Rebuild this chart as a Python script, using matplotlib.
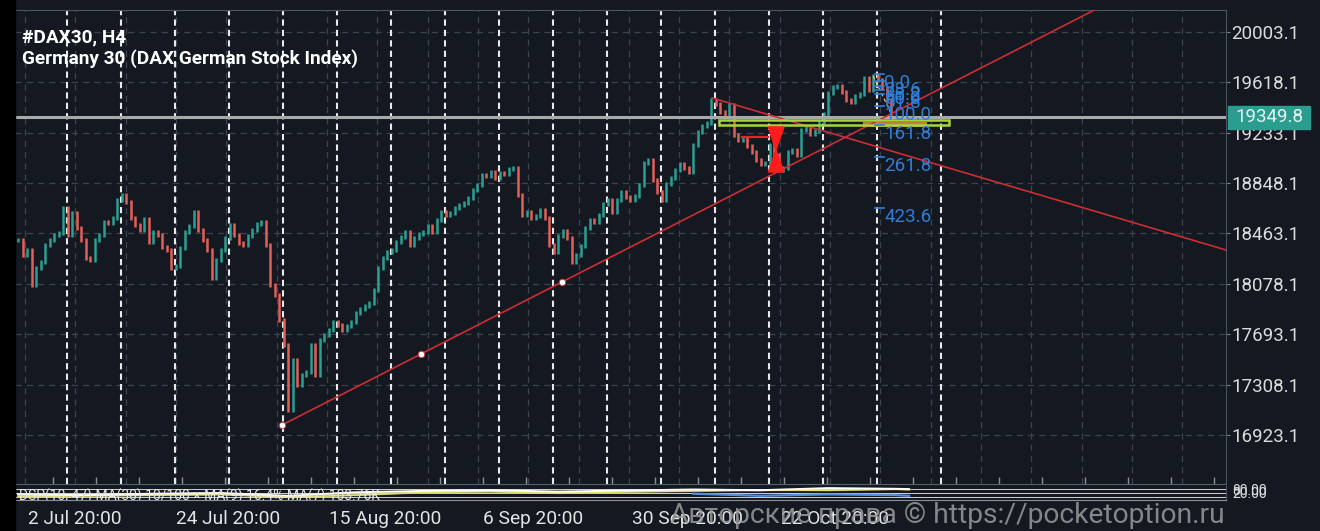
import numpy as np
import matplotlib.pyplot as plt
from matplotlib.patches import Rectangle, Polygon

plt.rcParams['font.family'] = ['Roboto', 'DejaVu Sans']

BG = '#131821'
UP = '#2b9f91'
DOWN = '#e2605a'

# H4 closes (one value per bar)
closes = [
    18413, 18299, 18337, 18069, 18199, 18245, 18375, 18413, 18452, 18467,
    18658, 18452, 18620, 18505, 18413, 18276, 18261, 18413, 18452, 18551,
    18545, 18582, 18719, 18757, 18704, 18582, 18528, 18490, 18574, 18398,
    18475, 18452, 18360, 18337, 18199, 18215, 18352, 18475, 18520, 18627,
    18490, 18413, 18337, 18123, 18261, 18337, 18429, 18528, 18452, 18391,
    18375, 18444, 18490, 18536, 18551, 18375, 18069, 17993, 17802, 17611,
    17114, 17496, 17305, 17382, 17405, 17611, 17382, 17649, 17687, 17726,
    17787, 17764, 17726, 17756, 17787, 17855, 17886, 17909, 17932, 18031,
    18199, 18276, 18322, 18337, 18398, 18436, 18475, 18375, 18429, 18459,
    18475, 18520, 18475, 18566, 18627, 18605, 18620, 18658, 18681, 18696,
    18734, 18796, 18834, 18910, 18903, 18933, 18887, 18926, 18918, 18956,
    18964, 18757, 18605, 18627, 18582, 18597, 18643, 18582, 18375, 18322,
    18444, 18482, 18429, 18245, 18299, 18368, 18505, 18566, 18551, 18605,
    18689, 18719, 18627, 18719, 18780, 18742, 18719, 18750, 18834, 19002,
    19025, 18872, 18780, 18719, 18841, 18887, 18948, 18994, 18964, 18933,
    19140, 19239, 19285, 19308, 19483, 19453, 19392, 19361, 19445, 19216,
    19178, 19193, 19132, 19086, 19025, 18994, 19002, 19140, 19063, 18948,
    18964, 19086, 19101, 19063, 19254, 19269, 19224, 19247, 19315, 19376,
    19537, 19583, 19590, 19545, 19483, 19468, 19514, 19529, 19652, 19560,
    19667, 19636, 19575, 19483, 19350,
]
last_price = 19349.8

price_ticks = [20003.1, 19618.1, 19233.1, 18848.1, 18463.1, 18078.1, 17693.1, 17308.1, 16923.1]
date_labels = ['2 Jul 20:00', '24 Jul 20:00', '15 Aug 20:00', '6 Sep 20:00', '30 Sep 20:00', '22 Oct 20:00']
date_bars = [12.5, 46.7, 81.6, 114.5, 148.7, 181.6]

# drawn objects (bar index, price)
trend_up_x = [58.7, 89.6, 120.9]
trend_up_y = [17000, 17543, 18093]
trend_dn_x = [154.2, 268.4]
trend_dn_y = [19499, 18337]
box_x = [155.8, 206.9]
box_y = [19292, 19331]
zone_x = [187.8, 202.0]
zone_y = [19277, 19315]
bow_x = [166.7, 168.4, 170.2]
bow_y = [19277, 19101, 18933]
path_x = [160.9, 166.7]
path_y = [19201, 19201]
fib_levels = [0.0, 23.6, 38.2, 50.0, 61.8, 100.0, 161.8, 261.8, 423.6]
fib_0 = 19682
fib_100 = 19440
fib_x = 190.4

# oscillator pane
osc_x = [0, 15, 30, 45, 60, 75, 90, 105, 120, 135, 150, 165, 180, 195, 198]
osc_white = [40, 35, 45, 50, 30, 55, 65, 70, 60, 68, 75, 70, 85, 80, 78]
osc_yellow = [25, 30, 35, 40, 20, 35, 55, 60, 50, 58, 65, 72, 70, 78, 75]
osc_blue = [None, None, None, None, None, None, None, None, None, None, 45, 30, 40, 35, 30]

W, H = 1320, 531
fig = plt.figure(figsize=(W / 100, H / 100), dpi=100, facecolor=BG)
fig.patches.append(Rectangle((0, 0), 15 / W, 1, transform=fig.transFigure,
                             color='black', zorder=0))

ax = fig.add_axes([15 / W, (H - 484) / H, 1211 / W, 474 / H], facecolor=BG)
x_lo, x_hi = -0.67, 268.4
ax.set_xlim(x_lo, x_hi)
ax.set_ylim(16548.5, 20171.2)

# grid
for p in price_ticks:
    ax.axhline(p, color='#3b4250', lw=0.9, ls=(0, (5, 4)), zorder=1)
for x in np.arange(1.56, x_hi, 11.18):
    ax.axvline(x, color='#3b4250', lw=0.9, ls=(0, (5, 4)), zorder=1)
for x in list(np.arange(10.9, 192, 12)) + [205.1]:
    ax.axvline(x, color='#e9e9e9', lw=1.5, ls=(0, (3, 2)), zorder=2)

# candles
c = np.array(closes, dtype=float)
prev = np.concatenate([[c[0]], c[:-1]])
idx = np.arange(len(c))
lo = np.minimum(prev, c) - 18
hi = np.maximum(prev, c) + 18
cols = [UP if a >= b else DOWN for a, b in zip(c, prev)]
ax.vlines(idx, lo, hi, colors=cols, linewidth=1.8, zorder=3)

# current price line
ax.axhline(last_price, color='#a9a9a9', lw=2.2, zorder=4)

# trendlines
s_up = (trend_up_y[-1] - trend_up_y[0]) / (trend_up_x[-1] - trend_up_x[0])
ax.plot([trend_up_x[0], x_hi], [trend_up_y[0], trend_up_y[0] + s_up * (x_hi - trend_up_x[0])],
        color='#cf2d33', lw=1.2, zorder=5)
ax.scatter(trend_up_x, trend_up_y, s=22, color='white', edgecolors='#cf2d33',
           linewidths=0.6, zorder=6)
ax.plot(trend_dn_x, trend_dn_y, color='#cf2d33', lw=1.2, zorder=5)

# levels box and zone
ax.add_patch(Rectangle((zone_x[0], zone_y[0]), zone_x[1] - zone_x[0], zone_y[1] - zone_y[0],
                       facecolor='#d98a3a', edgecolor='none', alpha=0.9, zorder=4))
ax.add_patch(Rectangle((box_x[0], box_y[0]), box_x[1] - box_x[0], box_y[1] - box_y[0],
                       facecolor='none', edgecolor='#a6d63a', lw=1.8, zorder=5))

# bow tie
ax.add_patch(Polygon([(bow_x[0], bow_y[0]), (bow_x[2], bow_y[0]), (bow_x[1], bow_y[1])],
                     color='#ff1c1c', zorder=6))
ax.add_patch(Polygon([(bow_x[1], bow_y[1]), (bow_x[0], bow_y[2]), (bow_x[2], bow_y[2])],
                     color='#ff1c1c', zorder=6))
ax.plot(path_x, path_y, color='#e8242a', lw=1.6, zorder=6)

# fibonacci expansion
ax.plot([190, 194], [19667, 19380], color='#d8c060', lw=0.9, ls=(0, (3, 2)), zorder=6)
for lv in fib_levels:
    p = fib_0 - (fib_0 - fib_100) * lv / 100
    ax.plot([fib_x, fib_x + 2], [p, p], color='#2f7fd8', lw=1.2, zorder=6)
    ax.text(fib_x + 2.1, p, f'{lv:.1f}', color='#2f7fd8', fontsize=13.5,
            va='top', ha='left', zorder=7)

# axes styling
for side in ['left', 'bottom']:
    ax.spines[side].set_visible(False)
ax.spines['top'].set_color('#4d5461')
ax.spines['right'].set_color('#4d5461')
ax.spines['bottom'].set_visible(True)
ax.spines['bottom'].set_color('#5a616d')
ax.yaxis.tick_right()
ax.set_yticks(price_ticks)
ax.set_yticklabels([f'{p:.1f}' for p in price_ticks])
ax.tick_params(axis='y', colors='#7c828c', labelcolor='#dcdcdc', labelsize=13.5,
               length=3, pad=1)
ax.set_xticks(np.arange(7.8, x_hi, 9.55))
ax.set_xticklabels([])
ax.tick_params(axis='x', direction='in', length=5, colors='#8a8f99', width=1)

# oscillator pane
ax2 = fig.add_axes([15 / W, (H - 500) / H, 1211 / W, 14 / H], facecolor=BG)
ax2.set_xlim(x_lo, x_hi)
ax2.set_ylim(0, 100)
for lvl in [20, 50, 80]:
    ax2.axhline(lvl, color='#d0d0d0', lw=0.7, zorder=1)
ax2.fill_between(osc_x, osc_yellow, osc_white, color='#c8c860', alpha=0.5, zorder=2)
ax2.plot(osc_x, osc_yellow, color='#e8e070', lw=1.2, zorder=3)
ax2.plot(osc_x, osc_white, color='white', lw=1.4, zorder=3)
bx = [x for x, v in zip(osc_x, osc_blue) if v is not None]
bv = [v for v in osc_blue if v is not None]
ax2.plot(bx, bv, color='#4f8fe0', lw=1.6, zorder=3)
ax2.text(0.3, -25, 'DSP(10, 47) MA(30) 10/100 \u00d7 MA(9) 16.4% MA(7) 103.76K',
         color='#e6e6e6', fontsize=10, va='bottom', ha='left', clip_on=True, zorder=4)
for side in ['left', 'top']:
    ax2.spines[side].set_visible(False)
ax2.spines['right'].set_color('#4d5461')
ax2.spines['bottom'].set_color('#8a8f99')
ax2.set_yticks([])
ax2.set_xticks(date_bars)
ax2.set_xticklabels(date_labels)
ax2.tick_params(axis='x', length=0, pad=7, labelsize=13.8, labelcolor='#e4e4e4')
fig.text(1232 / W, (H - 491) / H, '80.00', color='#dcdcdc', fontsize=10, va='center')
fig.text(1232 / W, (H - 494) / H, '20.00', color='#dcdcdc', fontsize=10, va='center')

# current price tag
fig.patches.append(Rectangle((1228 / W, (H - 129) / H), 82 / W, 23 / H,
                             transform=fig.transFigure, color='#2a9d8f', zorder=5))
fig.text(1269 / W, (H - 117.5) / H, f'{last_price:.1f}', color='#e9f4f2', fontsize=13.5,
         ha='center', va='center', zorder=6)

# titles
fig.text(22 / W, (H - 37) / H, '#DAX30, H4', color='white', fontsize=13.7,
         fontweight='bold', va='center')
fig.text(22 / W, (H - 59) / H, 'Germany 30 (DAX German Stock Index)', color='white',
         fontsize=13.7, fontweight='bold', va='center')

# watermark
fig.text(670 / W, (H - 515) / H, 'Авторские права © https://pocketoption.ru',
         color='#9a9a9a', alpha=0.85, fontsize=20.3, va='center', ha='left', zorder=8)

fig.savefig('out.png', dpi=100, facecolor=BG)
